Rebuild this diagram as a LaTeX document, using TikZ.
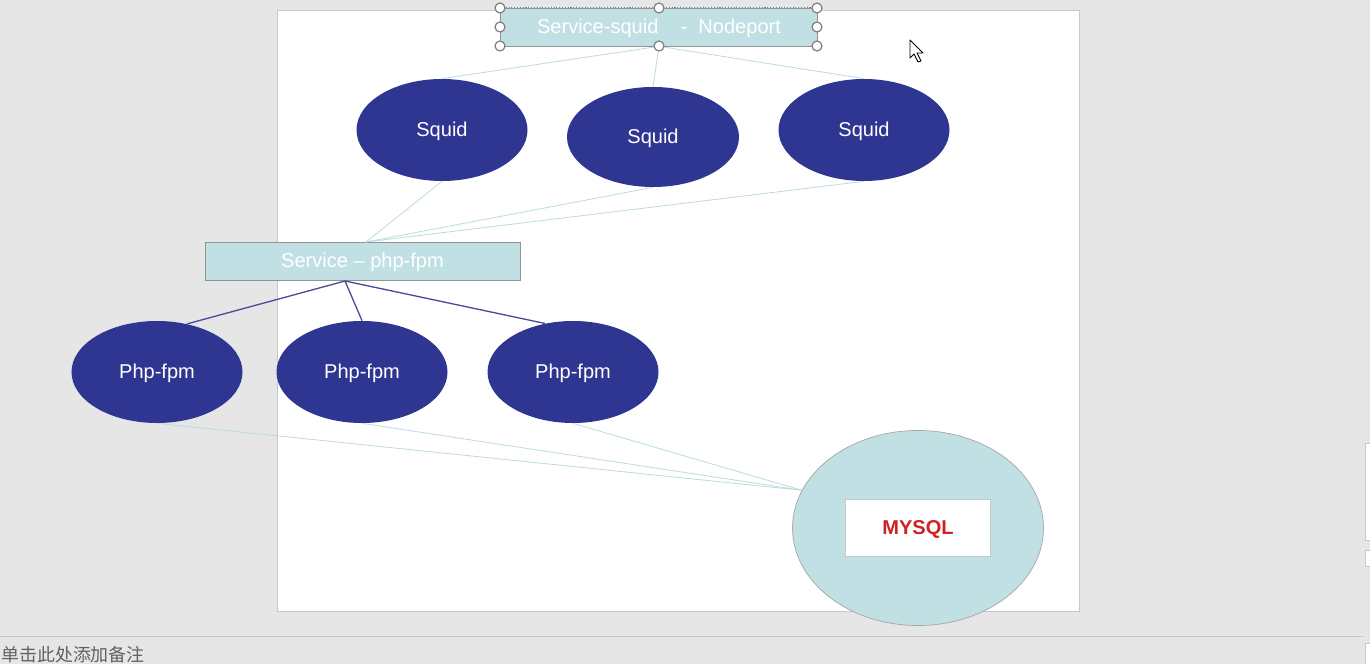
\documentclass[tikz,border=0pt]{standalone}
\usepackage{fontspec}
\setmainfont{Liberation Sans}
\newfontfamily\cjkfont{Noto Sans CJK SC}
\usetikzlibrary{shapes.geometric, positioning}
\definecolor{navy}{RGB}{47,54,145}
\definecolor{paleteal}{RGB}{193,224,228}
\definecolor{linkteal}{RGB}{186,219,221}
\definecolor{fpmblue}{RGB}{74,76,148}
\definecolor{bggray}{RGB}{230,230,230}
\definecolor{framegray}{RGB}{200,200,200}
\definecolor{mysqlred}{RGB}{205,35,35}
\tikzset{
  pod/.style={
    ellipse,
    fill=navy,
    text=white,
    inner sep=0pt,
    minimum width=34.2mm,
    minimum height=20.4mm,
    text height=0.95em,
    text depth=0.23em,
    font=\fontsize{11.4}{13}\selectfont,
  },
  svc/.style={
    rectangle,
    fill=paleteal,
    draw=gray!85,
    line width=0.4pt,
    text=white,
    inner sep=0pt,
    minimum width=63.2mm,
    minimum height=7.6mm,
    text height=0.95em,
    text depth=0.23em,
    font=\fontsize{11.4}{13}\selectfont,
  },
  link/.style={
    draw=linkteal,
    line width=0.45pt,
  },
  fpmlink/.style={
    draw=fpmblue,
    line width=0.75pt,
  },
  handle/.style={
    circle,
    draw=gray,
    fill=white,
    line width=0.7pt,
    minimum size=2mm,
    inner sep=0pt,
  },
}

\begin{document}
\begin{tikzpicture}[x=0.2mm, y=-0.2mm]
	\useasboundingbox (0,0) rectangle (1370,664);

	% window and slide
	\fill[bggray] (0,0) rectangle (1370,664);
	\draw[framegray, fill=white] (277,10) rectangle (1079,611);
	\draw[framegray] (0,636) -- (1363,636);
	\draw[framegray, fill=white] (1365,443) rectangle (1372,540);
	\draw[framegray, fill=white] (1365,550) rectangle (1372,566);
	\draw[framegray, fill=white] (1365,643) rectangle (1372,664);
	\node[anchor=west, inner sep=0pt, text=black!62, font=\cjkfont\fontsize{10.2}{12}\selectfont] (notes) at (1,655) {单击此处添加备注};

	% nodes
	\node[svc, minimum width=63.4mm] (svcsquid) at (659,27) {Service-squid\ \ \ \ -\ \ Nodeport};

	\node[pod] (squid1) at (442,130) {Squid};
	\node[pod, minimum width=34.4mm, minimum height=20mm] (squid2) at (653,137) {Squid};
	\node[pod] (squid3) at (864,130) {Squid};

	\node[svc, minimum width=63mm] (svcphp) at (362.5,261) {Service -- php-fpm};

	\node[pod] (php1) at (157,372) {Php-fpm};
	\node[pod] (php2) at (362,372) {Php-fpm};
	\node[pod] (php3) at (573,372) {Php-fpm};

	\node[ellipse, fill=paleteal, draw=gray!70, line width=0.4pt, minimum width=50.2mm, minimum height=39mm] (mysql) at (918,528) {};
	\node[rectangle, fill=white, draw=framegray, minimum width=29mm, minimum height=11.4mm, inner sep=0pt, text height=0.95em, text depth=0.23em, text=mysqlred, font=\bfseries\fontsize{11.4}{13}\selectfont] (db) at (mysql) {MYSQL};

	% edges
	\coordinate (phpin) at (366,242);
	\coordinate (phpout) at (345,281);
	\draw[link] (svcsquid.south) -- (squid1.north);
	\draw[link] (svcsquid.south) -- (squid2.north);
	\draw[link] (svcsquid.south) -- (squid3.north);
	\foreach \s in {squid1, squid2, squid3}
		\draw[link] (\s.south) -- (phpin);
	\draw[fpmlink] (phpout) -- (php1.58);
	\draw[fpmlink] (phpout) -- (php2.north);
	\draw[fpmlink] (phpout) -- (php3.120);
	\foreach \p in {php1, php2, php3}
		\draw[link] (\p.south) -- (mysql.162);

	% selection handles
	\draw[gray, densely dotted, line width=0.6pt] (svcsquid.north west) -- (svcsquid.north east);
	\foreach \hx/\hy [count=\i] in {500/8, 659/8, 817/8, 500/27, 817/27, 500/46, 659/46, 817/46}
		\node[handle] (h\i) at (\hx,\hy) {};

	% mouse pointer
	\draw[black, fill=white, line width=0.5pt, line join=round]
		(910,40) -- (910,58) -- (914,54) -- (918,62) -- (921,61) -- (917,53) -- (923,53) -- cycle;

\end{tikzpicture}
\end{document}
